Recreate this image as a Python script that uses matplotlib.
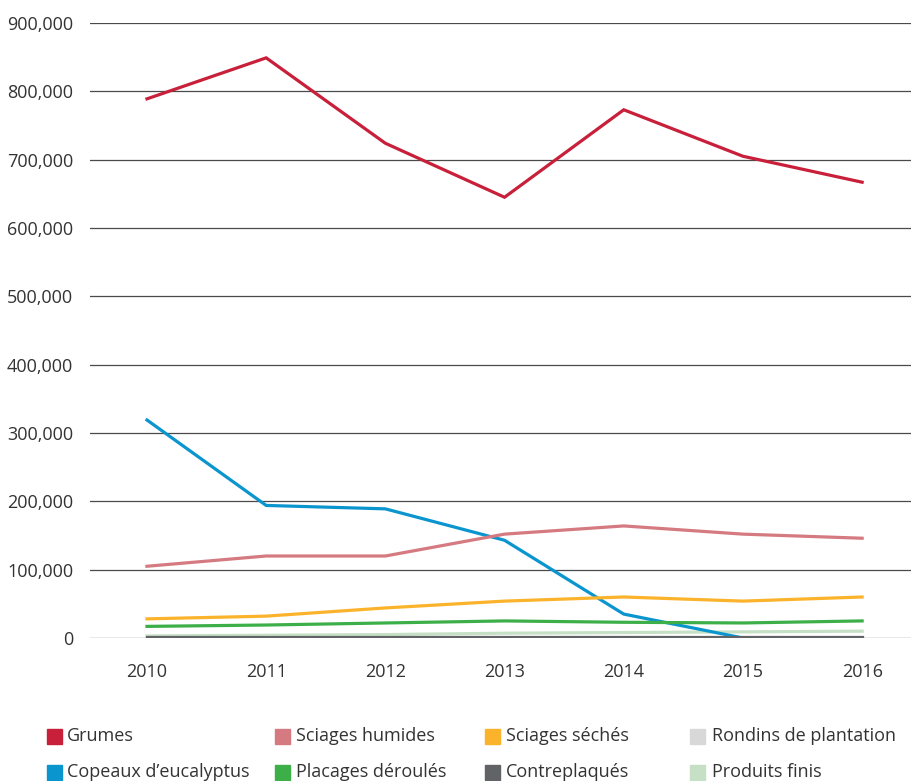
import matplotlib
matplotlib.use("Agg")
import matplotlib.pyplot as plt
from matplotlib.patches import Rectangle

years = ["2010", "2011", "2012", "2013", "2014", "2015", "2016"]
grumes = [789000, 849000, 724000, 645000, 773000, 705000, 667000]
sciages_humides = [105000, 120000, 120000, 152000, 164000, 152000, 146000]
sciages_seches = [28000, 32000, 44000, 54000, 60000, 54000, 60000]
rondins = [1500, 1500, 1500, 1500, 1500, 1500, 1500]
copeaux = [319000, 194000, 189000, 143000, 35000, 0, 0]
placages = [17000, 19000, 22000, 25000, 23000, 22000, 25000]
contreplaques = [1000, 1000, 1000, 1000, 1000, 1000, 1000]
produits_finis = [3000, 4000, 5000, 7000, 8000, 9000, 10000]

names = ["Grumes", "Sciages humides", "Sciages séchés", "Rondins de plantation",
         "Copeaux d\u2019eucalyptus", "Placages déroulés", "Contreplaqués", "Produits finis"]
series = [grumes, sciages_humides, sciages_seches, rondins,
          copeaux, placages, contreplaques, produits_finis]
colors = ["#c8203a", "#d47a80", "#fbb32b", "#d8d8d8",
          "#0a95cf", "#3daf49", "#626366", "#c5e0c5"]
draw_order = [3, 7, 4, 0, 1, 2, 5, 6]

plt.rcParams['font.family'] = ['Open Sans', 'DejaVu Sans']

W, H = 911, 781
fig = plt.figure(figsize=(W / 100, H / 100), dpi=100)
ax = fig.add_axes([90 / W, 1 - 638 / H, (911 - 90) / W, (638 - 23) / H])

x = list(range(len(years)))
for z, i in enumerate(draw_order):
    ax.plot(x, series[i], color=colors[i], lw=2.3, solid_joinstyle='miter', zorder=3 + z)

ax.set_ylim(0, 900000)
ax.set_xlim(-0.478, 6.41)
ax.set_yticks(range(0, 900001, 100000))
ax.set_yticklabels(["0"] + [f"{v:,}" for v in range(100000, 900001, 100000)])
ax.set_xticks(x)
ax.set_xticklabels(years)
ax.tick_params(length=0, labelsize=13, colors="#333333", pad=12)
ax.tick_params(axis='x', pad=18)
ax.yaxis.grid(True, color="#4a4a4a", lw=0.9)
ax.set_axisbelow(True)
for s in ax.spines.values():
    s.set_visible(False)

marker_x = [54, 282, 492, 697]
text_x = [67, 296, 506, 712]
row_y = [736, 772]
for i, name in enumerate(names):
    r, c = divmod(i, 4)
    py = row_y[r]
    fig.patches.append(Rectangle(((marker_x[c] - 7.5) / W, 1 - (py + 7.5) / H), 15 / W, 15 / H,
                                 transform=fig.transFigure, color=colors[i]))
    fig.text(text_x[c] / W, 1 - py / H, name, fontsize=13, color="#333333",
             va='center', ha='left')

fig.savefig("out.png", dpi=100)
